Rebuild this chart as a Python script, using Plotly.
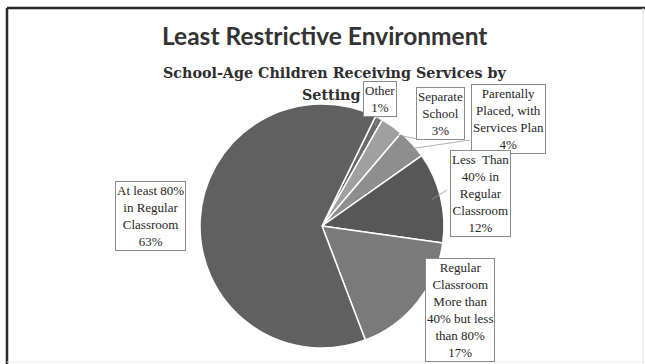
import math
import plotly.graph_objects as go

W, H = 645, 364

# ---- data ----
labels = ["Other", "Separate School", "Parentally Placed, with Services Plan",
          "Less Than 40% in Regular Classroom",
          "Regular Classroom More than 40% but less than 80%",
          "At least 80% in Regular Classroom"]
values = [1, 3, 4, 12, 17, 63]
label_texts = ["Other<br>1%", "Separate<br>School<br>3%", "Parentally<br>Placed, with<br>Services Plan<br>4%",
               "Less  Than<br>40% in<br>Regular<br>Classroom<br>12%",
               "Regular<br>Classroom<br>More than<br>40% but less<br>than 80%<br>17%",
               "At least 80%<br>in Regular<br>Classroom<br>63%"]
colors = ["#6b6b6b", "#a0a0a0", "#8e8e8e", "#575757", "#7a7a7a", "#606060"]
title = "Least Restrictive Environment"
subtitle_lines = ["School-Age Children Receiving Services by", "Setting"]

# ---- layout (pixels) ----
cx, cy, R = 322, 226, 122
rotation = 26
label_pos = [(380, 99), (441, 113), (508, 119), (481, 193), (460, 310), (150, 216)]
leader_end = [(380, 114), (418, 139), (470, 140), (447, 190), None, None]
subtitle_pos = [(334, 73), (331, 95)]


def px(x):
    return x / W


def py(y):
    return 1 - y / H


fig = go.Figure(go.Pie(
    labels=labels, values=values, sort=False, direction="clockwise",
    rotation=rotation, textinfo="none", hoverinfo="label+percent",
    marker=dict(colors=colors, line=dict(color="white", width=1.5)),
    domain=dict(x=[px(cx - R), px(cx + R)], y=[py(cy + R), py(cy - R)]),
    showlegend=False,
))

shapes = []
total = sum(values)
cum = 0
for i, v in enumerate(values):
    mid = rotation + (cum + v / 2) / total * 360
    cum += v
    if leader_end[i] is None:
        continue
    a = math.radians(mid)
    sx = cx + R * 0.93 * math.sin(a)
    sy = cy - R * 0.93 * math.cos(a)
    ex, ey = leader_end[i]
    shapes.append(dict(type="line", xref="paper", yref="paper",
                       x0=px(sx), y0=py(sy), x1=px(ex), y1=py(ey),
                       line=dict(color="#9a9a9a", width=0.8)))

# frame
shapes += [
    dict(type="line", xref="paper", yref="paper", x0=px(7), y0=py(8), x1=px(645), y1=py(8),
         line=dict(color="#2a2a2a", width=2.5)),
    dict(type="line", xref="paper", yref="paper", x0=px(7), y0=py(8), x1=px(7), y1=py(364),
         line=dict(color="#2a2a2a", width=2.5)),
    dict(type="line", xref="paper", yref="paper", x0=px(643), y0=py(8), x1=px(643), y1=py(364),
         line=dict(color="#e2e2e2", width=1)),
    dict(type="line", xref="paper", yref="paper", x0=px(7), y0=py(362), x1=px(645), y1=py(362),
         line=dict(color="#ececec", width=1)),
]

annotations = [
    dict(text="<b>%s</b>" % title, x=px(324), y=py(36), xref="paper", yref="paper",
         showarrow=False, xanchor="center", yanchor="middle",
         font=dict(family="Lato", size=24.5, color="#333333")),
]
for t, (sx_, sy_) in zip(subtitle_lines, subtitle_pos):
    annotations.append(dict(
        text="<b>%s</b>" % t, x=px(sx_), y=py(sy_), xref="paper", yref="paper",
        showarrow=False, xanchor="center", yanchor="middle",
        font=dict(family="DejaVu Serif", size=14.3, color="#2e2e2e")))
for t, (lx, ly) in zip(label_texts, label_pos):
    annotations.append(dict(
        text=t, x=px(lx), y=py(ly), xref="paper", yref="paper", showarrow=False,
        xanchor="center", yanchor="middle", align="center",
        font=dict(family="Liberation Serif", size=13, color="#262626"),
        bordercolor="#8a8a8a", borderwidth=1, borderpad=1, bgcolor="white"))

fig.update_layout(
    width=W, height=H, margin=dict(l=0, r=0, t=0, b=0),
    paper_bgcolor="white", plot_bgcolor="white",
    shapes=shapes, annotations=annotations,
)

fig.write_html("out.html", config={"displayModeBar": False},
               post_script="document.body.style.margin='0';")
